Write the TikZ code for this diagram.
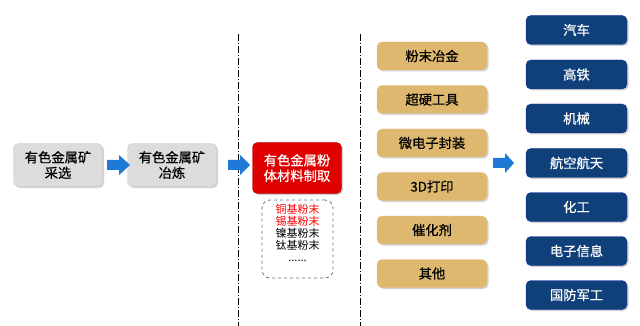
\documentclass[tikz,border=0pt]{standalone}
\usepackage{fontspec}
\setmainfont{Noto Sans CJK SC}
\newfontfamily\medfont{Noto Sans CJK SC}[FakeBold=0.6]
\usetikzlibrary{shadows}
\definecolor{grayfill}{RGB}{220,220,220}
\definecolor{redfill}{RGB}{224,0,0}
\definecolor{goldfill}{RGB}{222,184,110}
\definecolor{navyfill}{RGB}{16,64,122}
\definecolor{arrowblue}{RGB}{30,122,214}
\definecolor{dashgray}{RGB}{100,110,130}
\begin{document}
\begin{tikzpicture}[x=1pt,y=-1pt,
  base/.style={rounded corners=5pt, align=center, inner sep=0pt, font=\medfont\fontsize{13.3}{15.5}\selectfont,
    drop shadow={shadow xshift=1.5pt, shadow yshift=-1.5pt, opacity=0.35}},
  graybox/.style={base, fill=grayfill, draw=gray!40, minimum width=89pt, minimum height=43pt},
  redbox/.style={base, fill=redfill, draw=red!70!black, text=white, minimum width=89pt, minimum height=51pt},
  goldbox/.style={base, fill=goldfill, draw=goldfill!80!white, minimum width=110pt, minimum height=28pt},
  navybox/.style={base, fill=navyfill, draw=blue!30!navyfill, text=white, minimum width=101pt, minimum height=29pt},
  blockarrow/.style={fill=arrowblue, draw=none},
  sep/.style={dash pattern=on 7pt off 2pt on 1pt off 2pt, line width=0.9pt, black}
]
\useasboundingbox (0,0) rectangle (640,326);
\fill[white] (0,0) rectangle (640,326);

% separators
\coordinate (s1t) at (238,34); \coordinate (s1b) at (238,326);
\coordinate (s2t) at (360,34); \coordinate (s2b) at (360,326);
\draw[sep] (s1t) -- (s1b);
\draw[sep] (s2t) -- (s2b);

% left chain
\node[graybox] (mine) at (58,165) {有色金属矿\\采选};
\node[graybox] (smelt) at (172,165) {有色金属矿\\冶炼};
\node[redbox] (powder) at (297,168) {有色金属粉\\体材料制取};

% block arrows
\newcommand{\barrow}[3]{\fill[blockarrow] (#1,#2-5) -- (#1+12,#2-5) -- (#1+12,#2-10) -- (#1+#3,#2) -- (#1+12,#2+10) -- (#1+12,#2+5) -- (#1,#2+5) -- cycle;}
\barrow{107}{165}{23}
\barrow{228}{165}{22}
\barrow{493}{163}{21}

% powder types
\node[draw=dashgray, dashed, line width=0.8pt, rounded corners=8pt, minimum width=71pt, minimum height=78pt] (types) at (297.5,239) {};
\node[align=center, inner sep=0pt, font=\fontsize{11}{12}\selectfont] (typelist) at (297.5,232.5) {%
  \textcolor{red}{铜基粉末}\\\textcolor{red}{锡基粉末}\\镍基粉末\\钛基粉末\\......};

% gold column
\node[goldbox] (g1) at (432,56) {粉末冶金};
\node[goldbox] (g2) at (432,99.5) {超硬工具};
\node[goldbox] (g3) at (432,143) {微电子封装};
\node[goldbox] (g4) at (432,186.5) {3D打印};
\node[goldbox] (g5) at (432,230) {催化剂};
\node[goldbox] (g6) at (432,273.5) {其他};

% navy column
\node[navybox] (n1) at (576.5,30) {汽车};
\node[navybox] (n2) at (576.5,74.5) {高铁};
\node[navybox] (n3) at (576.5,118.5) {机械};
\node[navybox] (n4) at (576.5,163) {航空航天};
\node[navybox] (n5) at (576.5,207) {化工};
\node[navybox] (n6) at (576.5,251) {电子信息};
\node[navybox] (n7) at (576.5,295) {国防军工};
\end{tikzpicture}
\end{document}
